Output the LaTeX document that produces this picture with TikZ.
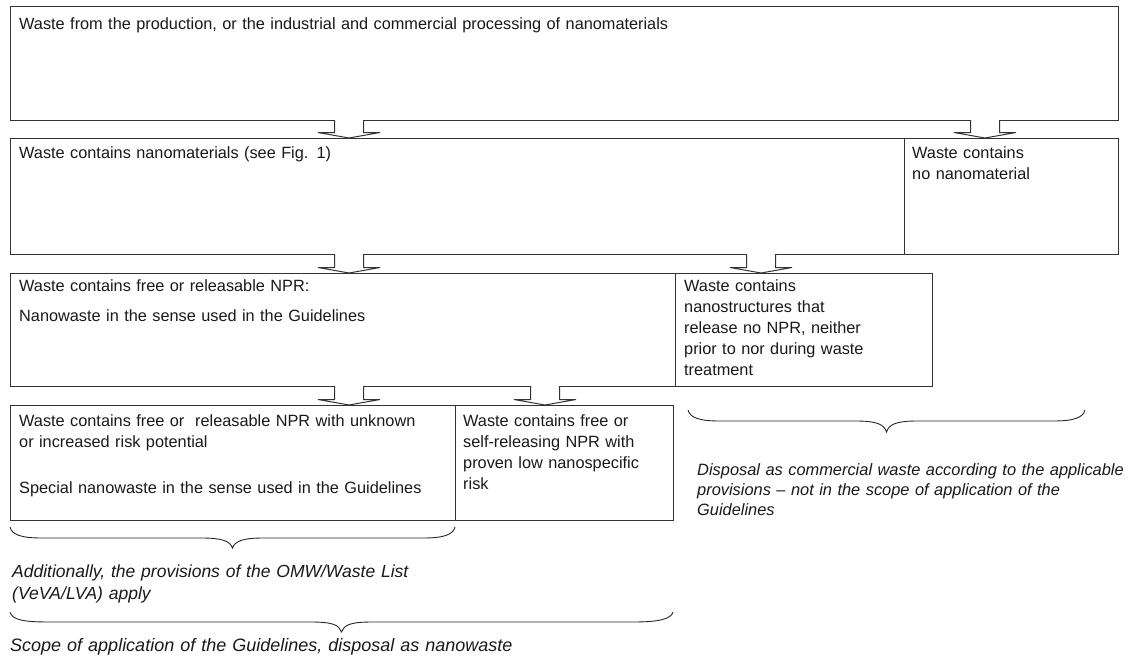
\documentclass[tikz,border=0pt]{standalone}
\usepackage{fontspec}
\setmainfont{Liberation Sans}
\begin{document}
\begin{tikzpicture}[x=1pt,y=-1pt,
  box/.style={draw=black!80, line width=1pt, anchor=north west, inner sep=0pt},
  txt/.style={anchor=north west, inner xsep=0pt, inner ysep=0pt, align=left, font=\fontsize{16.3}{21}\selectfont, text=black!90},
  note/.style={anchor=north west, inner sep=0pt, align=left, text=black!90},
  barrow/.style={draw=black!80, line width=1pt, fill=white},
  brc/.style={draw=black!85, line width=0.9pt}
]
\useasboundingbox (0,0) rectangle (1137,657);
% row 1
\node[box, minimum width=1108pt, minimum height=114pt] (b1) at (10,6) {};
\node[txt, text width=1090pt] (t1) at (19,17) {Waste from the production, or the industrial and commercial processing of nanomaterials};
% row 2
\node[box, minimum width=894pt, minimum height=116pt] (b2a) at (10,138) {};
\node[box, minimum width=214pt, minimum height=116pt] (b2b) at (904,138) {};
\node[txt, text width=870pt] (t2a) at (19,146) {Waste contains nanomaterials (see Fig. 1)};
\node[txt, text width=200pt] (t2b) at (912,146) {Waste contains\\no nanomaterial};
% row 3
\node[box, minimum width=665pt, minimum height=113pt] (b3a) at (10,273) {};
\node[box, minimum width=257pt, minimum height=113pt] (b3b) at (675,273) {};
\node[txt, text width=640pt] (t3a) at (19,279) {Waste contains free or releasable NPR:\\[9pt]Nanowaste in the sense used in the Guidelines};
\node[txt, text width=240pt] (t3b) at (684,279) {Waste contains\\nanostructures that\\release no NPR, neither\\prior to nor during waste\\treatment};
% row 4
\node[box, minimum width=445pt, minimum height=115pt] (b4a) at (10,405) {};
\node[box, minimum width=218pt, minimum height=115pt] (b4b) at (455,405) {};
\node[txt, text width=432pt] (t4a) at (19,414) {Waste contains free or\ \ releasable NPR with unknown\\or increased risk potential\\[25pt]Special nanowaste in the sense used in the Guidelines};
\node[txt, text width=205pt] (t4b) at (463,414) {Waste contains free or\\self-releasing NPR with\\proven low nanospecific\\risk};
% block arrows
\foreach \cx/\yt/\yb in {349/120/138, 985/120/138, 349/254/273, 761/254/273, 349/386/405, 545/386/405}{
  \draw[barrow] (\cx-14.5,\yt) -- (\cx-14.5,\yb-5.5) -- (\cx-31,\yb-5.5) -- (\cx,\yb) -- (\cx+31,\yb-5.5) -- (\cx+14.5,\yb-5.5) -- (\cx+14.5,\yt);
}
% brace right
\coordinate (cL) at (688,410); \coordinate (cR) at (1085,410); \coordinate (cM) at (886.5,432);
\draw[brc] (cL) .. controls (690,418) and (700,421) .. (720,421) -- (856,421) .. controls (876,421) and (884,424) .. (cM)
  .. controls (889,424) and (897,421) .. (917,421) -- (1053,421) .. controls (1073,421) and (1083,418) .. (cR);
\node[note, text width=440pt, font=\fontsize{16.4}{20}\selectfont\itshape] (n3) at (697,463) {Disposal as commercial waste according to the applicable\\provisions -- not in the scope of application of the\\Guidelines};
% brace under special nanowaste
\coordinate (aL) at (10,527); \coordinate (aR) at (455,527); \coordinate (aM) at (232.5,548);
\draw[brc] (aL) .. controls (12,535) and (22,538) .. (42,538) -- (202,538) .. controls (222,538) and (230,541) .. (aM)
  .. controls (235,541) and (243,538) .. (263,538) -- (423,538) .. controls (443,538) and (453,535) .. (aR);
\node[note, text width=440pt, font=\fontsize{17.5}{22}\selectfont\itshape] (n1) at (12,565) {Additionally, the provisions of the OMW/Waste List\\(VeVA/LVA) apply};
% brace under nanowaste
\coordinate (sL) at (10,612); \coordinate (sR) at (673,612); \coordinate (sM) at (341.5,632);
\draw[brc] (sL) .. controls (12,620) and (24,622) .. (50,622) -- (311,622) .. controls (333,622) and (339,625) .. (sM)
  .. controls (344,625) and (350,622) .. (372,622) -- (633,622) .. controls (659,622) and (671,619) .. (sR);
\node[note, text width=650pt, font=\fontsize{18}{22}\selectfont\itshape] (n2) at (10,638) {Scope of application of the Guidelines, disposal as nanowaste};
\end{tikzpicture}
\end{document}
